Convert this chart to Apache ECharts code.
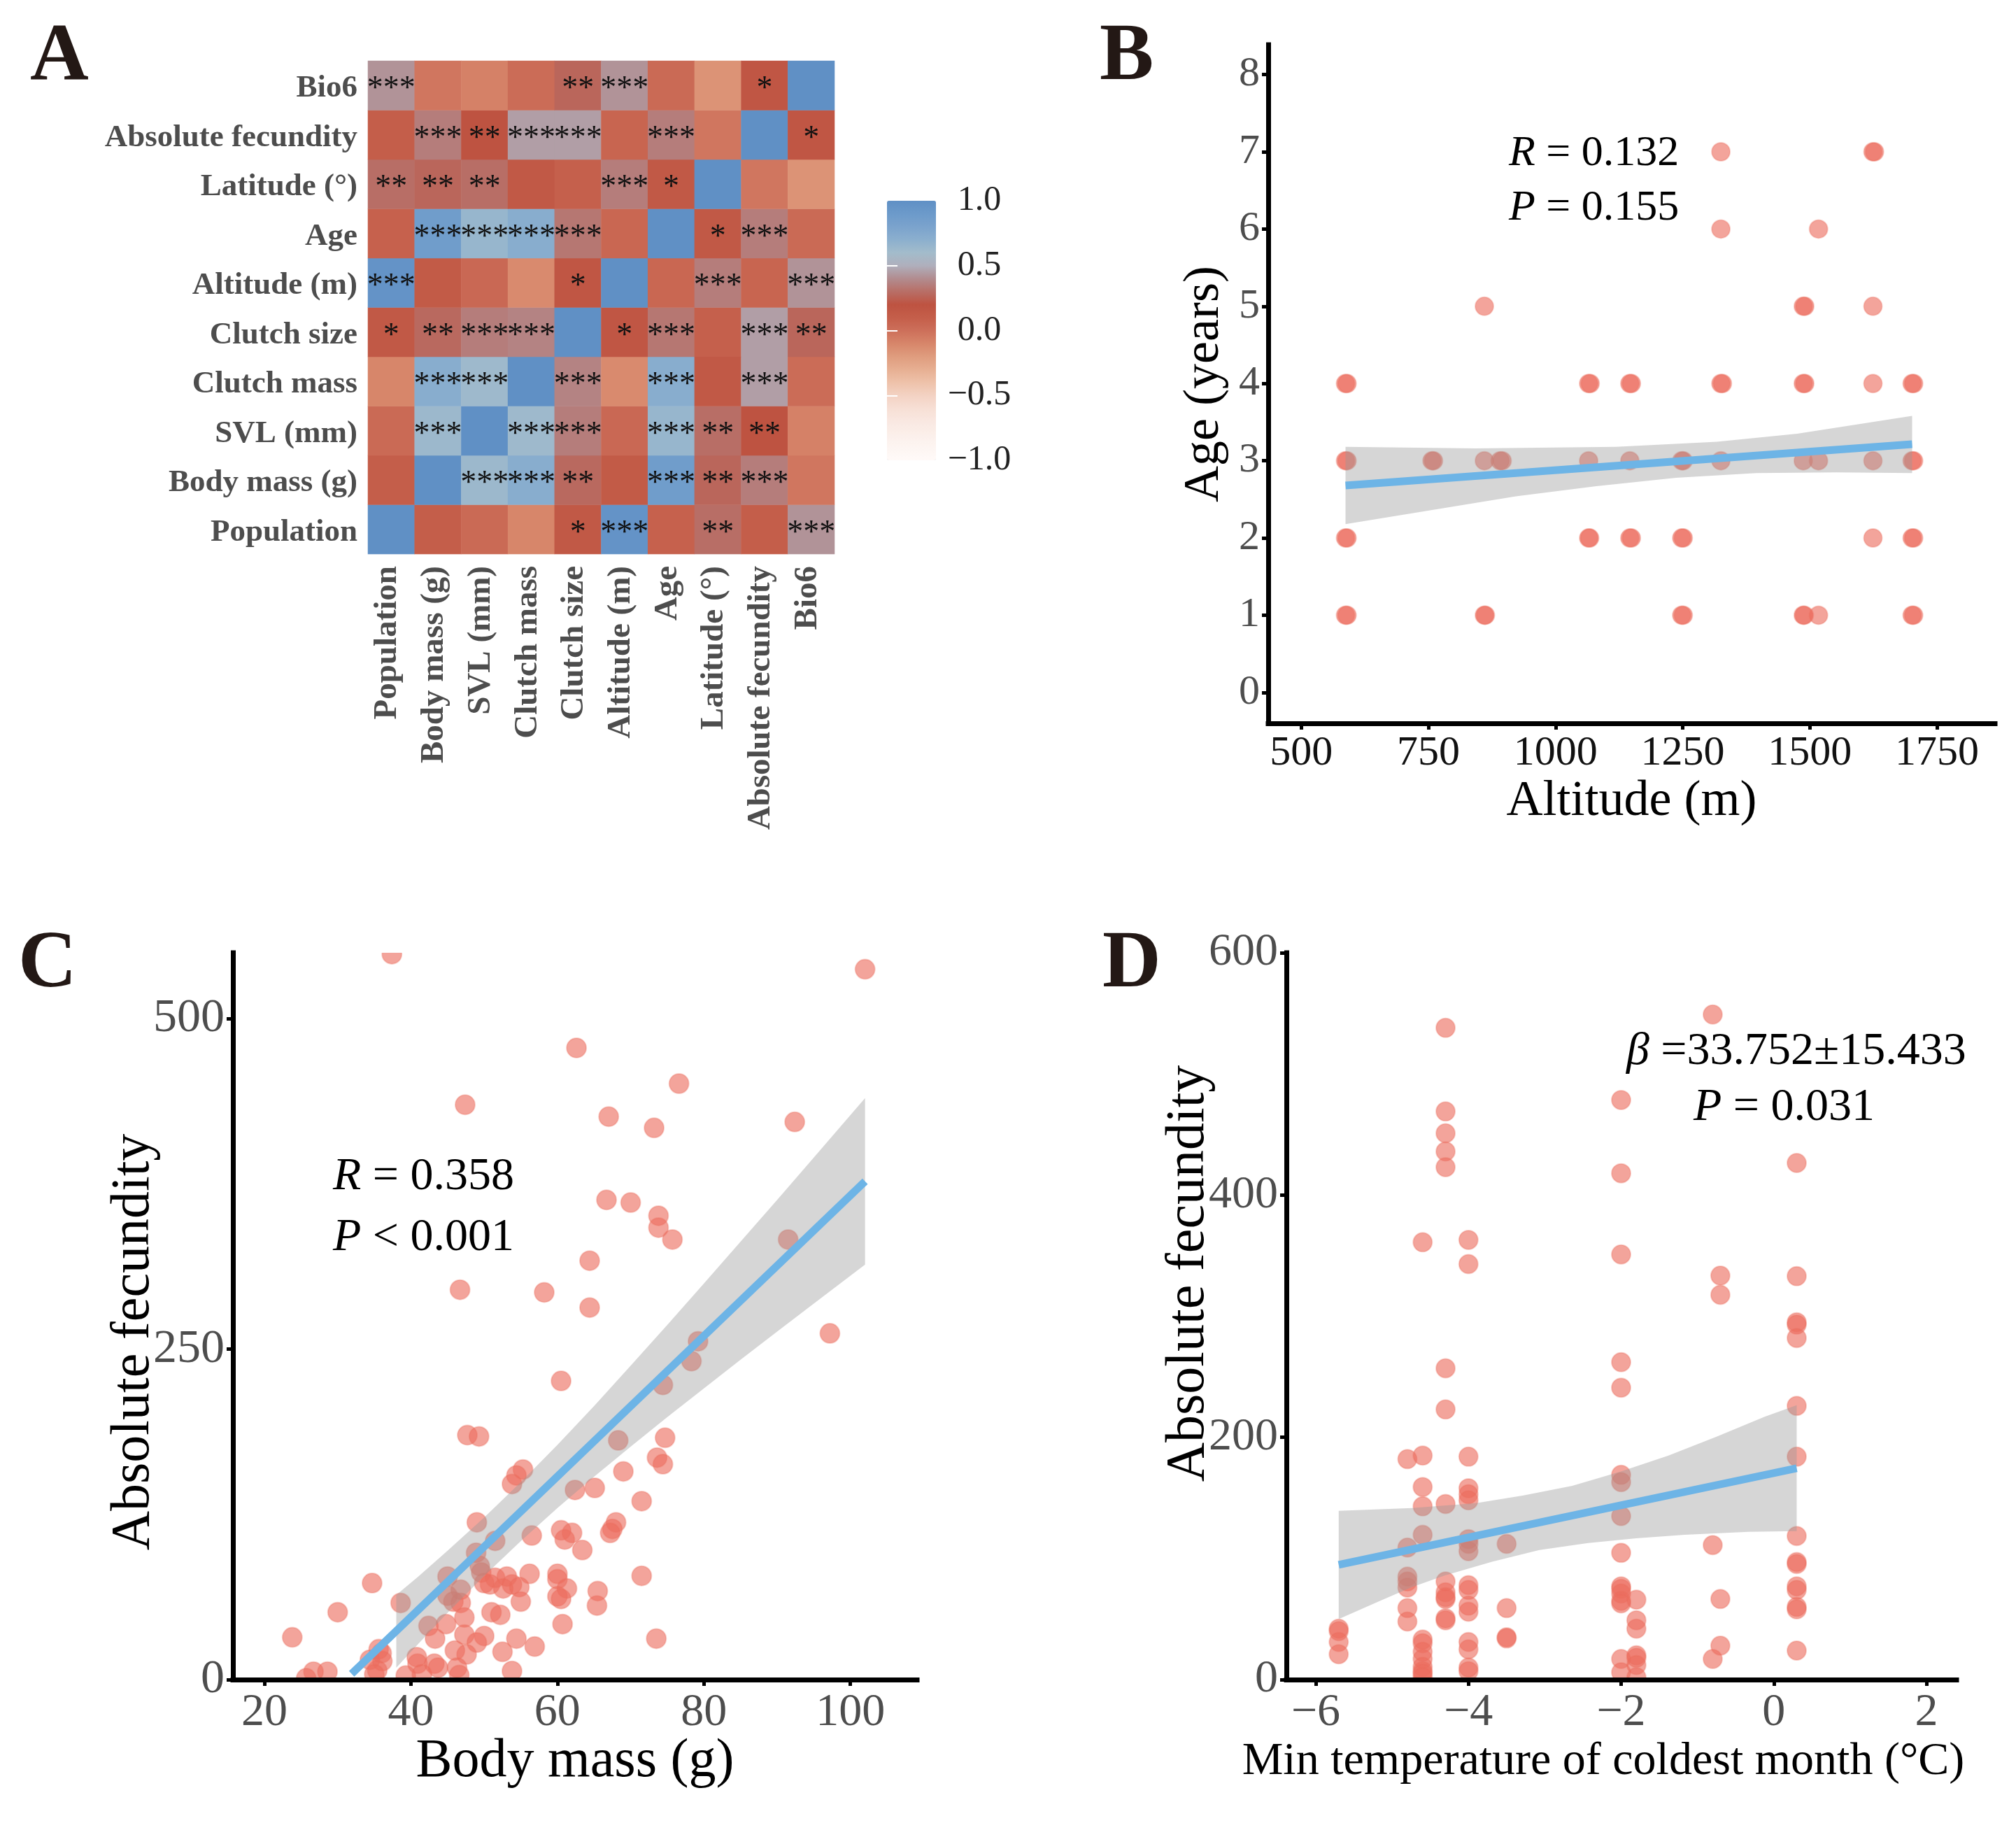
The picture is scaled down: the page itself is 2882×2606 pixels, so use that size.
<!DOCTYPE html>
<html><head><meta charset="utf-8">
<style>html,body{margin:0;padding:0;background:#fff}#c{width:2882px;height:2606px}</style>
<script src="https://cdn.jsdelivr.net/npm/echarts@6/dist/echarts.min.js"></script>
</head><body><div id="c"></div>
<script>
const SERIF = '"Liberation Serif"';
const variables = ['Population','Body mass (g)','SVL (mm)','Clutch mass','Clutch size','Altitude (m)','Age','Latitude (°)','Absolute fecundity','Bio6'];
const corr = [
 [1,.10,.03,-.10,.15,.97,.08,.30,.10,.42],
 [.10,1,.63,.72,.28,.13,.87,.27,.35,-.03],
 [.03,.63,1,.62,.35,.04,.65,.30,.20,-.08],
 [-.10,.72,.62,1,.37,-.12,.72,.15,.45,.02],
 [.15,.28,.35,.37,1,.17,.33,.09,.45,.27],
 [.97,.13,.04,-.12,.17,1,.05,.35,.06,.42],
 [.08,.87,.65,.72,.33,.05,1,.15,.35,.03],
 [.30,.27,.30,.15,.09,.35,.15,1,-.03,-.16],
 [.10,.35,.20,.45,.45,.06,.35,-.03,1,.17],
 [.42,-.03,-.08,.02,.27,.42,.03,-.16,.17,1]
];
const stars = [
 ['','','','','*','***','','**','','***'],
 ['','','***','***','**','','***','**','***',''],
 ['','***','','***','***','','***','**','**',''],
 ['','***','***','','***','','***','','***',''],
 ['*','**','***','***','','*','***','','***','**'],
 ['***','','','','*','','','***','','***'],
 ['','***','***','***','***','','','*','***',''],
 ['**','**','**','','','***','*','','',''],
 ['','***','**','***','***','','***','','','*'],
 ['***','','','','**','***','','','*','']
];
const colorStops = ['#FFFAF8','#FDF5F2','#FBEFEA','#F9E8E1','#F7DFD5','#F3D2C3','#EEC2AA','#E7AF92','#DF9C7E','#D7866A','#CD6F5A','#C45E4A','#BE5341','#B86E66','#B28C8F','#AFAFBC','#A3BCCB','#8BAFCE','#7BA3CD','#6C9ACA','#6090C5'];
const barTicks = [-1,-0.5,0,0.5,1];

const bPoints = [[587,1],[590,1],[587,2],[590,2],[587,3],[590,3],[587,4],[590,4],[757,3],[760,3],[860,1],[862,1],[860,3],[860,5],[891,3],[895,3],
 [1065,2],[1067,2],[1065,3],[1065,4],[1068,4],[1146,2],[1149,2],[1146,3],[1146,4],[1149,4],[1248,1],[1251,1],[1248,2],[1251,2],[1248,3],[1251,3],
 [1325,3],[1325,4],[1328,4],[1325,6],[1325,7],[1487,1],[1489,1],[1487,3],[1487,4],[1490,4],[1487,5],[1490,5],[1517,1],[1517,3],[1517,6],
 [1624,2],[1624,3],[1624,4],[1624,5],[1624,7],[1627,7],[1701,1],[1704,1],[1701,2],[1704,2],[1701,3],[1704,3],[1701,4],[1704,4]];
const bLine = [[587,2.68],[1701,3.215]];
const bBandUpX = [587,843,1119,1317,1475,1701];
const bBandUp = [3.18,3.16,3.18,3.245,3.35,3.58];
const bBandLoX = [587,764,922,1080,1237,1395,1553,1701];
const bBandLo = [2.18,2.37,2.54,2.67,2.78,2.84,2.85,2.84];
const bTicksX = [500,750,1000,1250,1500,1750];
const bTicksY = [0,1,2,3,4,5,6,7,8];

const cPoints = [[37.4,549],[102,537.5],[62.6,478],[76.6,451],[47.4,435],[67,426],[73.2,417.5],[92.4,422],[66.7,363],[70,361],[73.8,351],[73.8,342],[75.7,333],[91.5,333],[64.4,317],[46.7,295],[58.2,293],[64.4,281.5],[97.2,262],[79.2,256],[78.3,241],[60.5,226],[74.4,223],[47.7,185],[49.3,184],[74.7,183],[68.3,181],[73.6,168],[74.4,163],[55.3,159],[54.4,154.5],[53.8,148],[69,157.5],[65.1,145],[62.4,143.5],[71.5,135],[49,119],[68,119],[67.5,114],[67.2,111],[60.5,113],[62,111],[61,106],[56.5,109],[51.5,105],[63.4,98],[48.9,96],[49.4,86],[45,78],[49.6,81],[51.5,77],[53.1,78],[56.2,80],[60,80],[71.5,78.5],[34.7,73],[50,73],[50.8,72],[52.6,69],[53.8,72],[54.8,70],[60,76],[61.3,69],[65.5,67],[46.8,68],[45,63.5],[45.8,59],[60,63],[60.5,61],[46.8,58],[55,59],[65.4,56],[38.6,58],[30,51],[51,51],[52.2,49],[47.3,47],[60.7,42],[42.4,40.6],[44.8,42],[47.3,34],[50,33],[54.4,31],[23.8,32],[73.5,31],[43.3,31],[49,28],[56.9,25],[52.5,21],[46,22],[47.6,19],[40.8,17],[35.6,23],[36,20],[34.4,15],[36.1,14],[40.9,12],[43.2,12],[43.7,9],[46.3,9],[35.4,7],[35,4],[26.7,6],[28.6,6],[25.7,1],[39.3,3],[41.5,4],[46.6,3.5],[53.8,6.5]];
const cLine = [[31.9,4.4],[102,377]];
const cBandX = [38,41,45,50,55,60,65,70,75,80,85,90,95,102];
const cBandUp = [64,78,97.5,122.7,149.4,177.6,207,237.5,268.4,299.7,331.4,363,395,440];
const cBandLo = [9,27,50.5,78.5,104.8,129.8,153.5,176.3,198.6,220.3,242,263.3,284.5,314];
const cTicksX = [20,40,60,80,100];
const cTicksY = [0,250,500];

const dPoints = [[-5.7,42],[-5.7,40],[-5.7,31],[-5.7,21],
 [-4.8,182],[-4.8,109],[-4.8,85],[-4.8,81],[-4.8,76],[-4.8,59],[-4.8,48],
 [-4.6,361],[-4.6,185],[-4.6,159],[-4.6,143],[-4.6,119.5],[-4.6,33],[-4.6,30],[-4.6,23],[-4.6,17],[-4.6,10.6],[-4.6,7],[-4.6,5],[-4.6,2],
 [-4.3,538],[-4.3,469],[-4.3,451],[-4.3,436],[-4.3,423],[-4.3,257],[-4.3,223],[-4.3,145],[-4.3,81],[-4.3,72],[-4.3,68],[-4.3,66.5],[-4.3,50.6],[-4.3,49],
 [-4,363],[-4,343],[-4,184],[-4,158],[-4,153],[-4,148],[-4,116],[-4,112],[-4,106],[-4,78],[-4,74],[-4,61],[-4,56],[-4,31],[-4,25],[-4,10],[-4,7],
 [-3.5,112],[-3.5,59],[-3.5,35],[-3.5,34],
 [-2,478.5],[-2,418],[-2,351],[-2,262],[-2,241],[-2,169],[-2,163],[-2,135],[-2,104.6],[-2,77],[-2,75],[-2,71],[-2,65],[-2,63],[-2,17],[-2,6],
 [-1.8,66],[-1.8,49],[-1.8,42],[-1.8,20],[-1.8,18],[-1.8,12],[-1.8,2],
 [-0.8,549],[-0.8,111],[-0.8,17],[-0.7,333.5],[-0.7,317.6],[-0.7,66.5],[-0.7,28],
 [0.3,426.5],[0.3,333],[0.3,295],[0.3,293],[0.3,282],[0.3,226],[0.3,184],[0.3,118.5],[0.3,97],[0.3,95.4],[0.3,77],[0.3,74],[0.3,60],[0.3,58],[0.3,24]];
const dLine = [[-5.7,94.8],[0.3,174.5]];
const dBandUpX = [-5.7,-4.74,-3.9,-3.28,-2.64,-2.01,-1.38,-0.75,-0.12,0.3];
const dBandUp = [139.3,141.6,145.6,152,160,171.6,185,200.5,217,226.5];
const dBandLoX = [-5.7,-5.17,-4.74,-4.32,-3.69,-3.07,-2.43,-1.8,-1.17,-0.33,0.3];
const dBandLo = [50,64.7,76.3,85.7,97.3,107,112.7,116.6,119.5,122,122.5];
const dTicksX = [-6,-4,-2,0,2];
const dTicksY = [0,200,400,600];

const heatData = [];
corr.forEach((row, r) => row.forEach((v, c) => heatData.push([c, r, v, stars[r][c]])));

const AX = '#000', GREY = '#4d4d4d';
function valAxis(gridIndex, min, max, ticks, opt) {
  return Object.assign({
    type:'value', gridIndex, min, max, z:10, splitLine:{show:false},
    nameLocation:'middle', nameMoveOverlap:false,
    nameTextStyle:{fontFamily:SERIF,color:'#000',fontSize:opt.nameSize},
    axisLine:{show:true,onZero:false,lineStyle:{color:AX,width:7,cap:'square'}},
    axisTick:{show:true,length:9,customValues:ticks,lineStyle:{color:AX,width:5}},
    axisLabel:{show:true,customValues:ticks,margin:opt.margin,fontFamily:SERIF,fontSize:opt.labelSize,color:opt.labelColor||GREY,
      formatter:v=>String(v).replace('-','−')}
  }, opt.extra||{});
}
function points(xi, data, size) {
  return {type:'scatter',xAxisIndex:xi,yAxisIndex:xi,data,symbolSize:size,z:2,clip:false,
    itemStyle:{color:'rgba(236,108,94,0.62)',borderColor:'rgba(236,108,94,0.3)',borderWidth:2,opacity:1}};
}
function band(xi, upX, up, loX, lo) {
  return {type:'custom',xAxisIndex:xi,yAxisIndex:xi,clip:true,z:3,silent:true,data:[[upX[0],up[0]]],
    renderItem:(p,api)=>{
      const pts=[];
      upX.forEach((x,i)=>pts.push(api.coord([x,up[i]])));
      for(let i=loX.length-1;i>=0;i--)pts.push(api.coord([loX[i],lo[i]]));
      return {type:'polygon',shape:{points:pts},style:{fill:'rgba(153,153,153,0.4)'}};
    }};
}
function fit(xi, data) {
  return {type:'line',xAxisIndex:xi,yAxisIndex:xi,data,symbol:'none',z:4,silent:true,
    lineStyle:{color:'#6DB4E6',width:11,cap:'butt'}};
}
function letter(t,x,y){return {type:'text',x,y,z:20,style:{text:t,fontFamily:SERIF,fontWeight:'bold',fontSize:116,fill:'#231815'}};}
function note(t,x,y,size){return {type:'text',x,y,z:20,style:{text:t,fontFamily:SERIF,fontSize:size,fill:'#000',verticalAlign:'middle',
  rich:{i:{fontFamily:SERIF,fontStyle:'italic',fontSize:size,fill:'#000'},n:{fontFamily:SERIF,fontSize:size,fill:'#000'}}}};}
function mask(x,y,w,h){return {type:'rect',z:5,silent:true,shape:{x,y,width:w,height:h},style:{fill:'#fff'}};}

const option = {
  backgroundColor:'#fff', animation:false,
  grid:[
    {left:526,top:87,width:667,height:705},
    {left:1268,top:287,width:70,height:371},
    {left:1813,top:64,width:1039,height:970},
    {left:333,top:1362,width:978,height:1039},
    {left:1839,top:1362,width:958,height:1039}
  ],
  visualMap:{type:'continuous',seriesIndex:0,dimension:2,min:-1,max:1,calculable:false,show:true,left:1268,top:287,itemWidth:70,itemHeight:371,padding:0,text:['',''],showLabel:false,
    inRange:{color:colorStops}},
  xAxis:[
    {type:'category',gridIndex:0,data:variables,axisLine:{show:false},axisTick:{length:6,lineStyle:{color:'#f0f0f0',width:2},alignWithLabel:true},
      axisLabel:{rotate:90,interval:0,margin:17,fontFamily:SERIF,fontWeight:'bold',fontSize:47,color:GREY,
        formatter:v=>'{a|'+v+'}',rich:{a:{fontFamily:SERIF,fontWeight:'bold',fontSize:47,color:GREY,padding:[0,0,10,0]}}},splitLine:{show:false}},
    {type:'value',gridIndex:1,show:false,min:0,max:1},
    valAxis(2,435,1864,bTicksX,{nameSize:72,labelSize:60,margin:13,labelColor:'#111',extra:{name:'Altitude (m)',nameGap:76}}),
    valAxis(3,15.7,109.1,cTicksX,{nameSize:78,labelSize:66,margin:15,extra:{name:'Body mass (g)',nameGap:79}}),
    valAxis(4,-6.385,2.394,dTicksX,{nameSize:66,labelSize:66,margin:15,extra:{name:'Min temperature of coldest month (°C)',nameGap:85,nameTextStyle:{fontFamily:SERIF,color:'#000',fontSize:66,padding:[0,52,0,0]}}})
  ],
  yAxis:[
    {type:'category',gridIndex:0,data:variables,axisLine:{show:false},axisTick:{length:6,lineStyle:{color:'#f0f0f0',width:2},alignWithLabel:true},
      axisLabel:{interval:0,margin:15,fontFamily:SERIF,fontWeight:'bold',fontSize:45,color:GREY,
        formatter:v=>'{a|'+v+'}',rich:{a:{fontFamily:SERIF,fontWeight:'bold',fontSize:45,color:GREY,padding:[9,0,0,0]}}},splitLine:{show:false}},
    {type:'value',gridIndex:1,position:'right',min:-1,max:1,z:10,splitLine:{show:false},axisLine:{show:false},
      axisTick:{show:true,inside:true,length:15,customValues:[-0.5,0,0.5],lineStyle:{color:'#fff',width:2}},
      axisLabel:{show:true,customValues:barTicks,margin:62,align:'center',fontFamily:SERIF,fontSize:50,color:'#222',
        formatter:v=>(v<0?'−':'')+Math.abs(v).toFixed(1)}},
    {type:'value',gridIndex:1,position:'left',min:-1,max:1,z:10,splitLine:{show:false},axisLine:{show:false},axisLabel:{show:false},
      axisTick:{show:true,inside:true,length:15,customValues:[-0.5,0,0.5],lineStyle:{color:'#fff',width:2}}},
    valAxis(2,-0.4,8.386,bTicksY,{nameSize:72,labelSize:60,margin:12,extra:{name:'Age (years)',nameGap:55}}),
    valAxis(3,0,550,cTicksY,{nameSize:78,labelSize:68,margin:12,extra:{name:'Absolute fecundity',nameGap:102,nameTextStyle:{fontFamily:SERIF,color:'#000',fontSize:78,padding:[0,74,0,0]}}}),
    valAxis(4,0,600,dTicksY,{nameSize:78,labelSize:66,margin:12,extra:{name:'Absolute fecundity',nameGap:100,nameTextStyle:{fontFamily:SERIF,color:'#000',fontSize:78,padding:[0,0,0,122]}}})
  ],
  series:[
    {type:'heatmap',xAxisIndex:0,yAxisIndex:0,data:heatData,emphasis:{disabled:true},
      encode:{x:0,y:1,value:2},
      label:{show:true,formatter:p=>p.data[3]?'{s|'+p.data[3]+'}':'',rich:{s:{fontFamily:SERIF,fontSize:46,color:'#111',padding:[12,0,0,0]}}},labelLayout:{hideOverlap:false},itemStyle:{borderWidth:0}},
    Object.assign(points(2,bPoints,26),{yAxisIndex:3}),
    Object.assign(band(2,bBandUpX,bBandUp,bBandLoX,bBandLo),{yAxisIndex:3}),
    Object.assign(fit(2,bLine),{yAxisIndex:3}),
    Object.assign(points(3,cPoints,28),{yAxisIndex:4}),
    Object.assign(band(3,cBandX,cBandUp,cBandX,cBandLo),{yAxisIndex:4}),
    Object.assign(fit(3,cLine),{yAxisIndex:4}),
    Object.assign(points(4,dPoints,27),{yAxisIndex:5}),
    Object.assign(band(4,dBandUpX,dBandUp,dBandLoX,dBandLo),{yAxisIndex:5}),
    Object.assign(fit(4,dLine),{yAxisIndex:5})
  ],
  graphic:{elements:[
    mask(336,2401,980,30), mask(340,1330,970,32), mask(1842,2401,960,30),
    letter('A',43,25), letter('B',1572,25), letter('C',26,1322), letter('D',1576,1322),
    note('{i|R}{n| = 0.132}',2157,220,62), note('{i|P}{n| = 0.155}',2157,298,62),
    note('{i|R}{n| = 0.358}',476,1683,66), note('{i|P}{n| < 0.001}',476,1770,66),
    note('{i|β}{n| =33.752±15.433}',2325,1504,66), note('{i|P}{n| = 0.031}',2421,1584,66)
  ]}
};
const chart = echarts.init(document.getElementById('c'),null,{renderer:'canvas',width:2882,height:2606});
chart.setOption(option);
</script></body></html>
